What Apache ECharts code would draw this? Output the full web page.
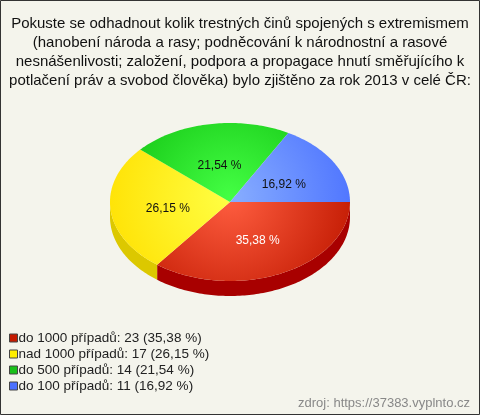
<!DOCTYPE html>
<html>
<head>
<meta charset="utf-8">
<script src="https://cdn.jsdelivr.net/npm/echarts@6/dist/echarts.min.js"></script>
<style>
  html, body { margin: 0; padding: 0; background: #f4f4ec; }
  #chart { width: 480px; height: 415px; }
</style>
</head>
<body>
<div id="chart"></div>
<script>
// data
const categories = ['do 1000 případů', 'nad 1000 případů', 'do 500 případů', 'do 100 případů'];
const counts = [23, 17, 14, 11];

// styles
const topLight = ['#ff5e40', '#ffff44', '#44ff44', '#88aeff'];
const topDark = ['#c01800', '#ffe000', '#10c010', '#4a70ff'];
const sideColors = ['#a80000', '#dcc800', '#0a9a0a', '#3050d0'];
const legendColors = ['#c41a00', '#ffee00', '#18c018', '#4a70ff'];
const labelColors = ['#ffffff', '#111111', '#111111', '#111111'];

const total = counts.reduce((a, b) => a + b, 0);
const pct = v => (v / total * 100).toFixed(2).replace('.', ',');

// ellipse geometry of the fake 3D pie
const cx = 230, cy = 202, rx = 120, ry = 79, depth = 15;

function arcPoints(a0, a1, dy) {
  const pts = [];
  const n = Math.max(2, Math.ceil((a1 - a0) / 0.02));
  for (let k = 0; k <= n; k++) {
    const t = a0 + (a1 - a0) * k / n;
    pts.push([cx + rx * Math.cos(t), cy + dy + ry * Math.sin(t)]);
  }
  return pts;
}

function renderSlice(params, api) {
  const i = params.dataIndex;
  let before = 0;
  for (let k = 0; k < i; k++) before += counts[k];
  const start = before / total * Math.PI * 2;
  const end = start + api.value(1) / total * Math.PI * 2;
  const children = [];

  // side wall, only the front half is visible
  const s0 = Math.max(start, 0), s1 = Math.min(end, Math.PI);
  if (s1 > s0) {
    const pts = arcPoints(s0, s1, 0).concat(arcPoints(s0, s1, depth).reverse());
    children.push({
      type: 'polygon',
      shape: { points: pts },
      style: { fill: sideColors[i] }
    });
  }

  // top face
  children.push({
    type: 'polygon',
    shape: { points: [[cx, cy]].concat(arcPoints(start, end, 0)) },
    style: {
      fill: new echarts.graphic.RadialGradient(cx, cy - 5, 135, [
        { offset: 0, color: topLight[i] },
        { offset: 1, color: topDark[i] }
      ], true)
    }
  });

  const mid = (start + end) / 2;
  children.push({
    type: 'text',
    style: {
      x: cx + rx * 0.52 * Math.cos(mid),
      y: cy + ry * 0.5 * Math.sin(mid) + 3,
      text: pct(api.value(1)) + ' %',
      fill: labelColors[i],
      font: '12px Arial, "Liberation Sans", sans-serif',
      align: 'center',
      verticalAlign: 'middle'
    }
  });

  return { type: 'group', children: children };
}

const chart = echarts.init(document.getElementById('chart'));
chart.setOption({
  backgroundColor: '#f4f4ec',
  animation: false,
  title: {
    text: 'Pokuste se odhadnout kolik trestných činů spojených s extremismem\n' +
      '(hanobení národa a rasy; podněcování k národnostní a rasové\n' +
      'nesnášenlivosti; založení, podpora a propagace hnutí směřujícího k\n' +
      'potlačení práv a svobod člověka) bylo zjištěno za rok 2013 v celé ČR:',
    left: 'center',
    top: 9,
    textStyle: {
      fontFamily: 'Arial, "Liberation Sans", sans-serif',
      fontSize: 15,
      fontWeight: 'normal',
      lineHeight: 19,
      color: '#111'
    }
  },
  legend: {
    orient: 'vertical',
    left: 4,
    top: 326,
    icon: 'rect',
    itemWidth: 8,
    itemHeight: 8,
    itemGap: 2,
    selectedMode: false,
    data: categories,
    itemStyle: { borderColor: '#444', borderWidth: 1 },
    textStyle: {
      fontFamily: 'Arial, "Liberation Sans", sans-serif',
      fontSize: 13.5,
      color: '#222',
      lineHeight: 14,
      padding: [0, 0, 0, -4]
    },
    formatter: function (name) {
      const i = categories.indexOf(name);
      return name + ': ' + counts[i] + ' (' + pct(counts[i]) + ' %)';
    }
  },
  graphic: [
    {
      type: 'rect',
      shape: { x: 0.5, y: 0.5, width: 479, height: 414 },
      style: { fill: 'none', stroke: '#333', lineWidth: 1 },
      z: 100
    },
    {
      type: 'text',
      right: 10,
      bottom: 5,
      style: {
        text: 'zdroj: https://37383.vyplnto.cz',
        fill: '#888',
        font: '13px Arial, "Liberation Sans", sans-serif'
      }
    }
  ],
  series: [
    {
      type: 'custom',
      coordinateSystem: 'none',
      renderItem: renderSlice,
      data: counts.map((v, i) => [i, v])
    },
    {
      // only feeds the legend
      type: 'pie',
      silent: true,
      center: [-50, -50],
      radius: 1,
      label: { show: false },
      labelLine: { show: false },
      data: categories.map((c, i) => ({ name: c, value: counts[i], itemStyle: { color: legendColors[i] } }))
    }
  ]
});
</script>
</body>
</html>
